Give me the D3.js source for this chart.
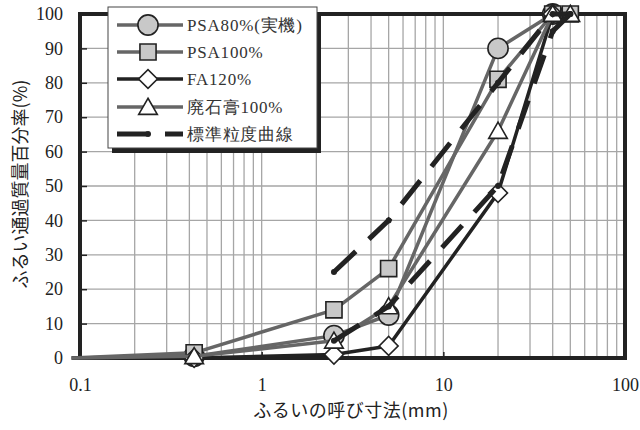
<!DOCTYPE html>
<html><head><meta charset="utf-8">
<script src="https://cdn.jsdelivr.net/npm/d3@7/dist/d3.min.js"></script>
<style>
body{margin:0;background:#fff;}
svg{display:block;}
.serif{font-family:"Liberation Serif","DejaVu Serif",serif;}
.cjk{font-family:"Noto Sans CJK JP","Noto Sans",sans-serif;}
</style></head>
<body>
<svg id="chart" width="640" height="430"></svg>
<script>
// ---- data ----
const sieveSizes = [0.09, 0.425, 2.5, 5, 20, 40, 50];
const psa80   = [0, 0.5, 6.5, 12.5, 90, 100, null];
const psa100  = [0, 1.5, 14, 26, 81, 100, 100];
const fa120   = [0, 0, 1, 3.5, 48, 100, null];
const haisekko = [0, 0.5, 5, 15, 66, 100, 100];
const stdUpper = [null, null, 25, 40, 80, 100, 100];
const stdLower = [null, null, 5, 15, 50, 95, 100];
const seriesNames = ["PSA80%(実機)", "PSA100%", "FA120%", "廃石膏100%", "標準粒度曲線"];
const xTickValues = [0.1, 1, 10, 100];
const xTickLabels = ["0.1", "1", "10", "100"];
const yTickValues = [0, 10, 20, 30, 40, 50, 60, 70, 80, 90, 100];
const xTitle = "ふるいの呼び寸法(mm)";
const yTitle = "ふるい通過質量百分率(%)";

// ---- layout ----
const svg = d3.select("#chart");
const L = 80, R = 625, T = 14, B = 358;
const x = d3.scaleLog().domain([0.1, 100]).range([L, R]);
const y = d3.scaleLinear().domain([0, 100]).range([B, T]);

// grid
const minorX = [];
[0.1, 1, 10].forEach(d => { for (let k = 1; k <= 9; k++) minorX.push(d * k); });
minorX.push(100);
svg.append("g").selectAll("line").data(minorX).join("line")
  .attr("x1", d => x(d)).attr("x2", d => x(d)).attr("y1", T).attr("y2", B)
  .attr("stroke", "#a6a6a6").attr("stroke-width", 1.3);
svg.append("g").selectAll("line").data(yTickValues).join("line")
  .attr("x1", L).attr("x2", R).attr("y1", d => y(d)).attr("y2", d => y(d))
  .attr("stroke", "#a6a6a6").attr("stroke-width", 1.3);

// axes (ticks inside)
const yAxis = d3.axisLeft(y).tickValues(yTickValues).tickSize(-7).tickPadding(17).tickFormat(d3.format("d"));
const gy = svg.append("g").attr("transform", `translate(${L},0)`).call(yAxis);
gy.attr("font-family", null).attr("font-size", null);
gy.select(".domain").remove();
gy.selectAll(".tick line").attr("stroke", "#222").attr("stroke-width", 1.5);
gy.selectAll("text").attr("class", "serif").style("font-size", "18px").attr("fill", "#222");

const xAxis = d3.axisBottom(x).tickValues(xTickValues).tickSize(-6).tickPadding(20)
  .tickFormat((d, i) => xTickLabels[i]);
const gx = svg.append("g").attr("transform", `translate(0,${B})`).call(xAxis);
gx.attr("font-family", null).attr("font-size", null);
gx.select(".domain").remove();
gx.selectAll(".tick line").attr("stroke", "#222").attr("stroke-width", 1.5);
gx.selectAll("text").attr("class", "serif").style("font-size", "18px").attr("fill", "#222");

// frame
svg.append("rect").attr("x", L).attr("y", T).attr("width", R - L).attr("height", B - T)
  .attr("fill", "none").attr("stroke", "#222").attr("stroke-width", 4);

// titles
svg.append("text").attr("class", "cjk").attr("x", 351).attr("y", 417).attr("text-anchor", "middle")
  .style("font-size", "18px").style("letter-spacing", "0.5px").attr("fill", "#222").text(xTitle);
svg.append("text").attr("class", "cjk").attr("transform", "translate(27,184) rotate(-90)").attr("text-anchor", "middle")
  .style("font-size", "18px").attr("fill", "#222").text(yTitle);

// series
const grey = "#666666", black = "#222222", mfill = "#c8c8c8";
const series = [
  {name: seriesNames[0], vals: psa80, color: grey, marker: "circle", fill: mfill},
  {name: seriesNames[1], vals: psa100, color: grey, marker: "square", fill: mfill},
  {name: seriesNames[2], vals: fa120, color: black, marker: "diamond", fill: "#fff"},
  {name: seriesNames[3], vals: haisekko, color: grey, marker: "triangle", fill: "#fff"}
];
const symSize = {circle: 320, square: 260, diamond: 180, triangle: 150};
const symType = {circle: d3.symbolCircle, square: d3.symbolSquare, diamond: d3.symbolDiamond, triangle: d3.symbolTriangle};

const line = d3.line().defined(d => d.v != null).x(d => x(d.s)).y(d => y(d.v));
const toPts = vals => sieveSizes.map((s, i) => ({s, v: vals[i]}));

function drawMarker(g, type, fill, cx, cy) {
  let tr = `translate(${cx},${cy})`, sym = symType[type];
  if (type === "diamond") { sym = d3.symbolSquare; tr += " rotate(45)"; }
  if (type === "triangle") tr = `translate(${cx},${cy + 2})`;
  g.append("path").attr("d", d3.symbol().type(sym).size(symSize[type])())
    .attr("transform", tr).attr("fill", fill).attr("stroke", "#222").attr("stroke-width", 1.6);
}

series.forEach(sr => {
  const g = svg.append("g");
  const pts = toPts(sr.vals);
  g.append("path").attr("d", line(pts)).attr("fill", "none")
    .attr("stroke", sr.color).attr("stroke-width", 3.5).attr("stroke-linejoin", "round");
  pts.slice(1).filter(d => d.v != null).forEach(d => drawMarker(g, sr.marker, sr.fill, x(d.s), y(d.v)));
});

// standard grading curves (dashed, with dots)
[stdUpper, stdLower].forEach(vals => {
  const g = svg.append("g");
  const pts = toPts(vals);
  g.append("path").attr("d", line(pts)).attr("fill", "none")
    .attr("stroke", black).attr("stroke-width", 5).attr("stroke-dasharray", "30,18");
  g.selectAll("circle").data(pts.filter(d => d.v != null)).join("circle")
    .attr("cx", d => x(d.s)).attr("cy", d => y(d.v)).attr("r", 3).attr("fill", black);
});

// legend
const lg = svg.append("g");
const lx = 108, ly = 7, lw = 209, lh = 141;
lg.append("rect").attr("x", lx + 4).attr("y", ly + 5).attr("width", lw).attr("height", lh).attr("fill", "#222");
lg.append("rect").attr("x", lx).attr("y", ly).attr("width", lw).attr("height", lh)
  .attr("fill", "#fff").attr("stroke", "#444").attr("stroke-width", 1);
const rows = [25, 52, 79, 107, 134];
series.forEach((sr, i) => {
  const yy = rows[i];
  lg.append("line").attr("x1", 117).attr("x2", 183).attr("y1", yy).attr("y2", yy)
    .attr("stroke", sr.color).attr("stroke-width", 3.5);
  drawMarker(lg, sr.marker, sr.fill, 148, yy);
  lg.append("text").attr("class", "serif").attr("x", 187).attr("y", yy).attr("dy", "0.35em")
    .style("font-size", "17px").style("letter-spacing", "0.8px").attr("fill", "#333").text(sr.name);
});
lg.append("line").attr("x1", 117).attr("x2", 183).attr("y1", rows[4]).attr("y2", rows[4])
  .attr("stroke", black).attr("stroke-width", 5).attr("stroke-dasharray", "30,18");
lg.append("circle").attr("cx", 148).attr("cy", rows[4]).attr("r", 3).attr("fill", black);
lg.append("text").attr("class", "serif").attr("x", 187).attr("y", rows[4]).attr("dy", "0.35em")
  .style("font-size", "17px").style("letter-spacing", "0.8px").attr("fill", "#333").text(seriesNames[4]);
</script>
</body></html>
